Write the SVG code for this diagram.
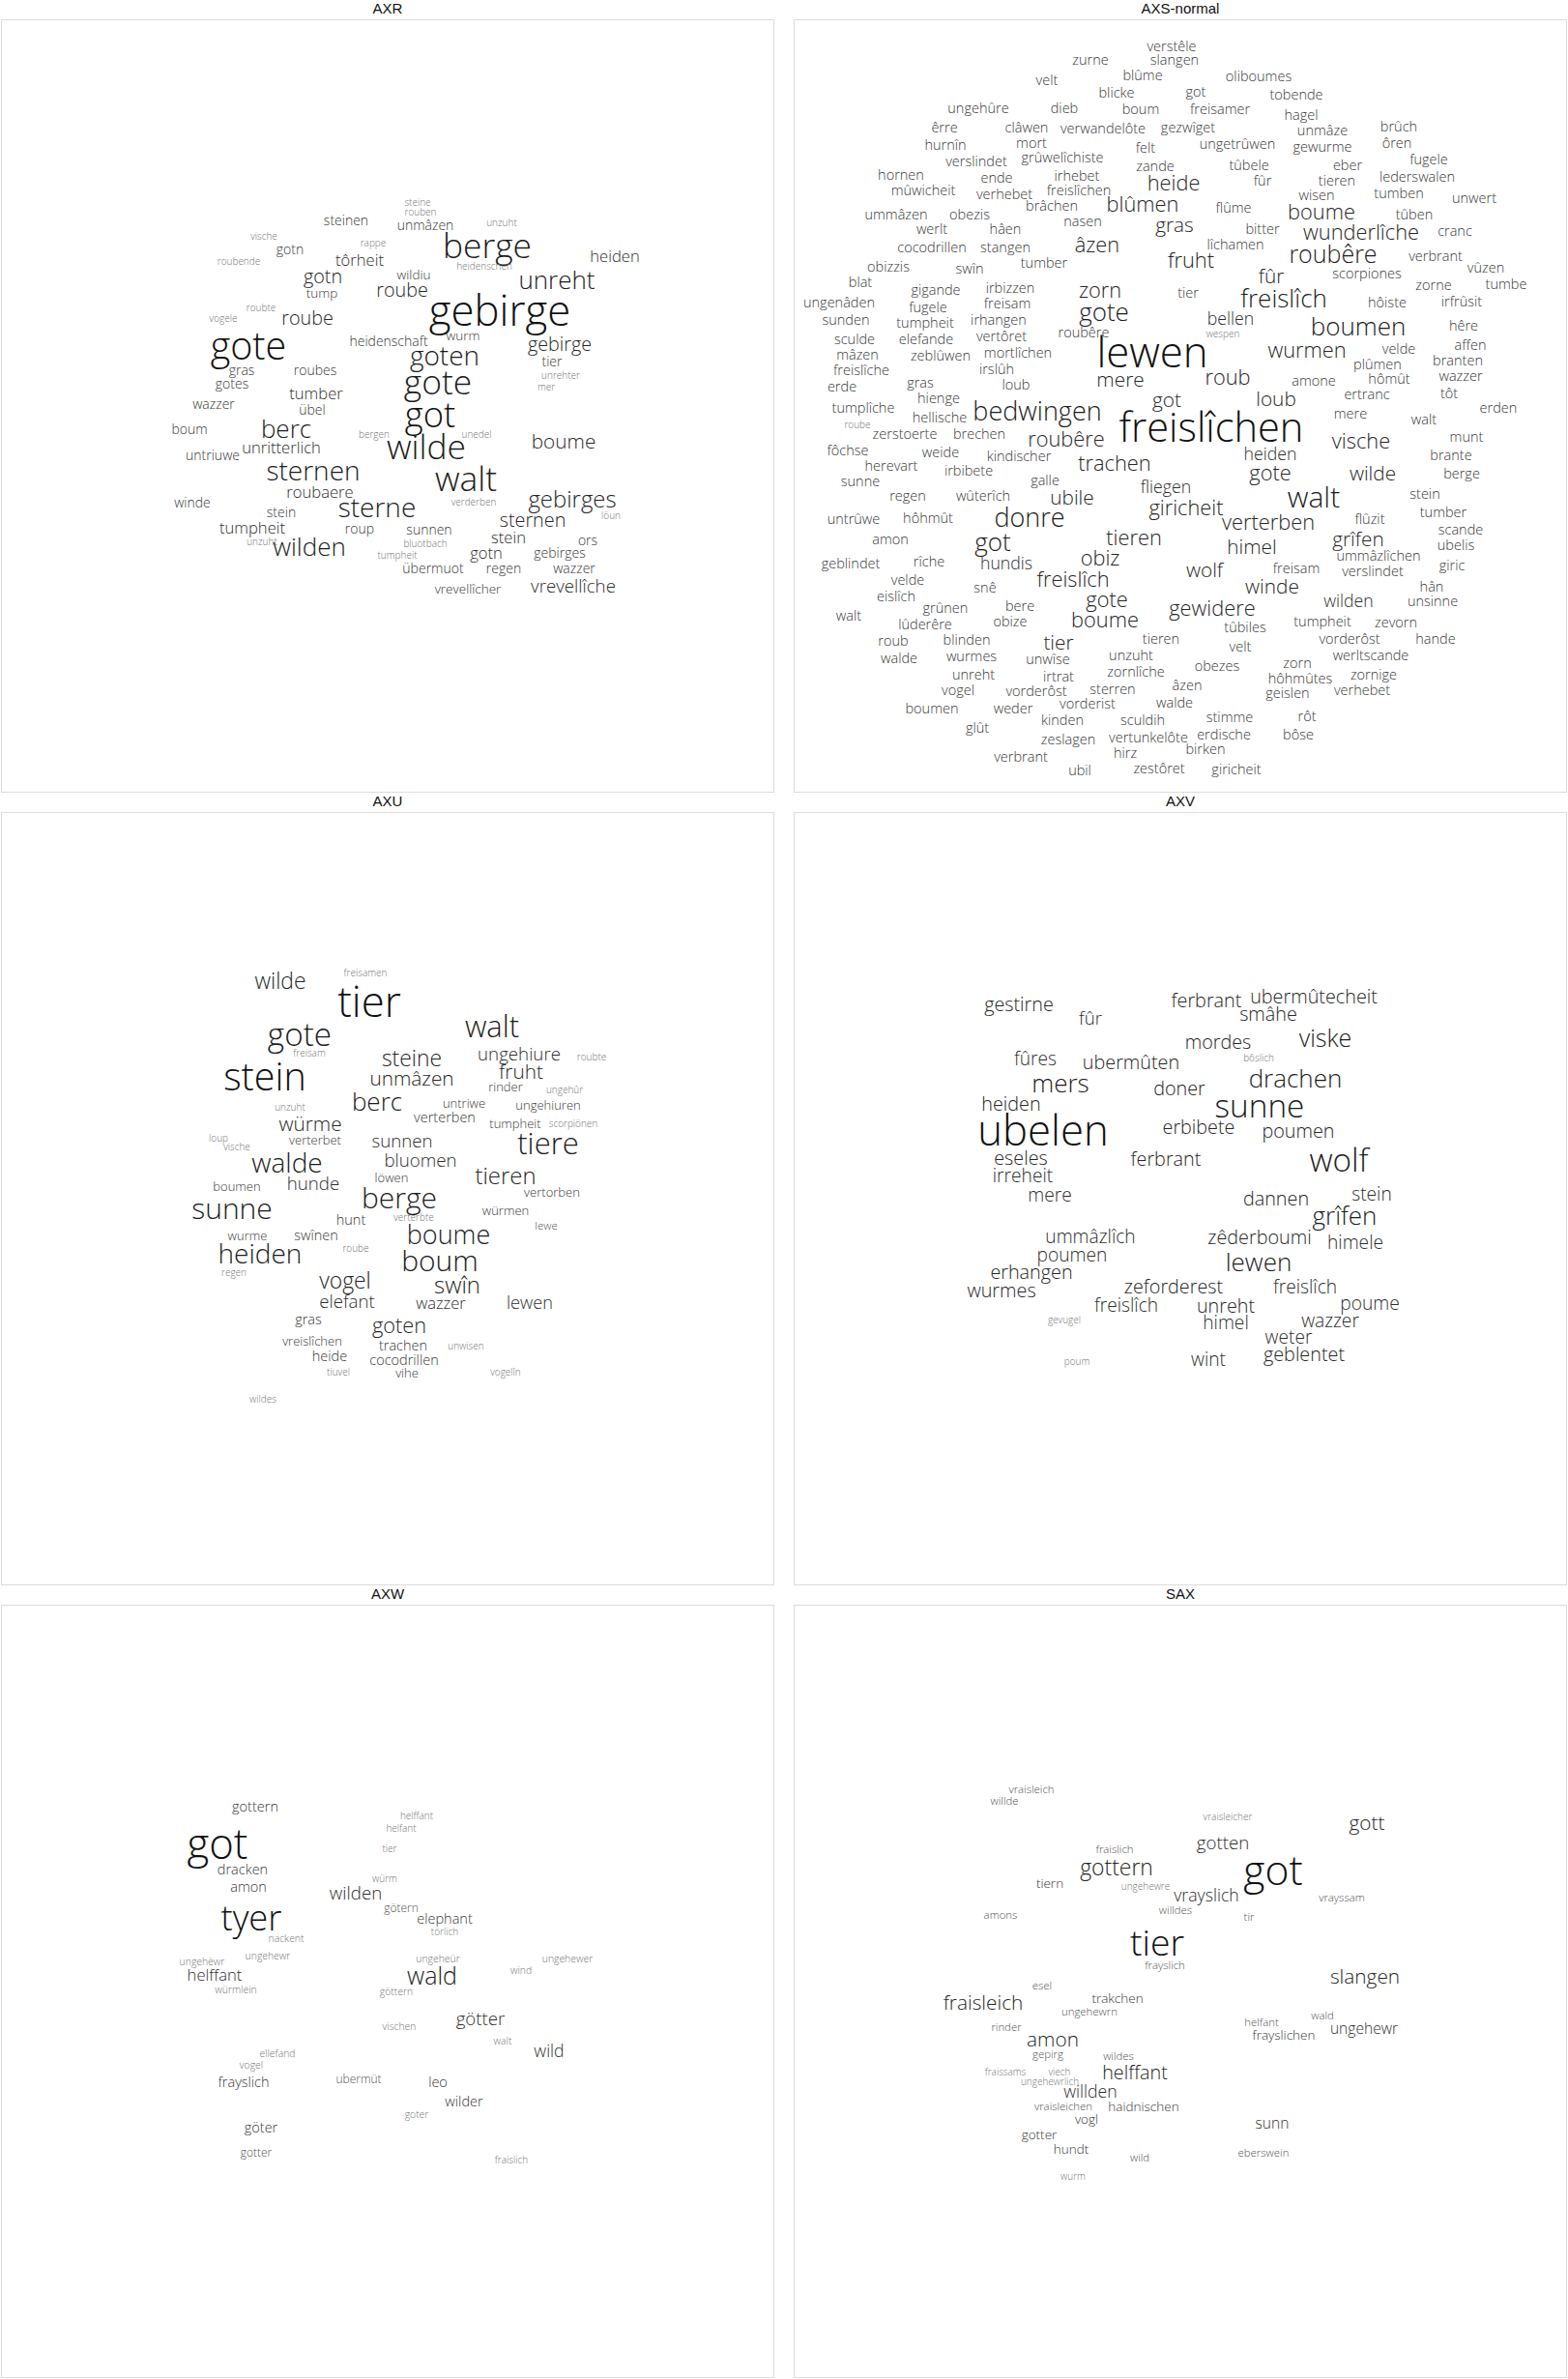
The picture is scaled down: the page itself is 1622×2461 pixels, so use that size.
<svg xmlns="http://www.w3.org/2000/svg" width="1622" height="2461" viewBox="0 0 1622 2461">
<style>
.panel{fill:#fff;stroke:#dcdcdc;stroke-width:1}
.title{font-family:"Liberation Sans",Arial,sans-serif;font-size:15px;fill:#111;text-anchor:middle}
.cloud text{font-family:"Open Sans","DejaVu Sans",sans-serif;font-weight:300;text-anchor:middle}
.a{fill:#111}.b{fill:#1c1c1c}.c{fill:#262626}.d{fill:#2e2e2e}.e{fill:#383838}.f{fill:#555}.g{fill:#777}
</style>
<rect width="1622" height="2461" fill="#fff"/>
<g id="frames">
<rect class="panel" x="1.5" y="20.5" width="799" height="799"/>
<rect class="panel" x="821.5" y="20.5" width="799" height="799"/>
<rect class="panel" x="1.5" y="840.5" width="799" height="799"/>
<rect class="panel" x="821.5" y="840.5" width="799" height="799"/>
<rect class="panel" x="1.5" y="1660.5" width="799" height="799"/>
<rect class="panel" x="821.5" y="1660.5" width="799" height="799"/>
</g>
<g id="titles">
<text class="title" x="401" y="13.5">AXR</text>
<text class="title" x="1221" y="13.5">AXS-normal</text>
<text class="title" x="401" y="833.5">AXU</text>
<text class="title" x="1221" y="833.5">AXV</text>
<text class="title" x="401" y="1653.5">AXW</text>
<text class="title" x="1221" y="1653.5">SAX</text>
</g>
<g id="cloud-AXR" class="cloud">
<text x="432" y="213" font-size="10" class="g">steine</text>
<text x="435" y="223" font-size="10" class="g">rouben</text>
<text x="440" y="238" font-size="14" class="e">unmâzen</text>
<text x="358" y="233" font-size="14" class="e">steinen</text>
<text x="519" y="234" font-size="10" class="g">unzuht</text>
<text x="273" y="248" font-size="10" class="g">vische</text>
<text x="386" y="255" font-size="10" class="g">rappe</text>
<text x="300" y="263" font-size="14" class="e">gotn</text>
<text x="504" y="267" font-size="35.4" class="b">berge</text>
<text x="636" y="271" font-size="16.6" class="d">heiden</text>
<text x="247" y="274" font-size="10" class="g">roubende</text>
<text x="372" y="275" font-size="16.6" class="d">tôrheit</text>
<text x="501" y="279" font-size="10" class="g">heidenschen</text>
<text x="428" y="289" font-size="13.5" class="e">wildiu</text>
<text x="334" y="293" font-size="19.8" class="c">gotn</text>
<text x="576" y="299" font-size="26" class="b">unreht</text>
<text x="416" y="307" font-size="19.8" class="c">roube</text>
<text x="333" y="308" font-size="13.5" class="e">tump</text>
<text x="270" y="322" font-size="10" class="g">roubte</text>
<text x="231" y="333" font-size="10" class="g">vogele</text>
<text x="318" y="336" font-size="19.8" class="c">roube</text>
<text x="517" y="337" font-size="43.7" class="a">gebirge</text>
<text x="479" y="352" font-size="13.5" class="e">wurm</text>
<text x="402" y="358" font-size="14" class="e">heidenschaft</text>
<text x="579" y="363" font-size="19.8" class="c">gebirge</text>
<text x="257" y="372" font-size="39.5" class="a">gote</text>
<text x="460" y="378" font-size="28" class="b">goten</text>
<text x="571" y="379" font-size="14" class="e">tier</text>
<text x="250" y="388" font-size="14" class="e">gras</text>
<text x="326" y="388" font-size="14" class="e">roubes</text>
<text x="580" y="392" font-size="10" class="g">unrehter</text>
<text x="240" y="402" font-size="14" class="e">gotes</text>
<text x="565" y="404" font-size="10" class="g">mer</text>
<text x="453" y="408" font-size="35.4" class="b">gote</text>
<text x="327" y="413" font-size="16.6" class="d">tumber</text>
<text x="221" y="423" font-size="14" class="e">wazzer</text>
<text x="323" y="429" font-size="14" class="e">übel</text>
<text x="445" y="442" font-size="36.4" class="a">got</text>
<text x="196" y="449" font-size="14" class="e">boum</text>
<text x="387" y="453" font-size="10" class="g">bergen</text>
<text x="296" y="453" font-size="26" class="b">berc</text>
<text x="493" y="453" font-size="10" class="g">unedel</text>
<text x="583" y="464" font-size="20.8" class="c">boume</text>
<text x="291" y="469" font-size="16.6" class="d">unritterlich</text>
<text x="441" y="475" font-size="35.4" class="b">wilde</text>
<text x="220" y="476" font-size="14" class="e">untriuwe</text>
<text x="324" y="497" font-size="28" class="b">sternen</text>
<text x="482" y="508" font-size="35.4" class="b">walt</text>
<text x="331" y="515" font-size="16.6" class="d">roubaere</text>
<text x="490" y="523" font-size="10" class="g">verderben</text>
<text x="592" y="525" font-size="23.9" class="c">gebirges</text>
<text x="199" y="525" font-size="14" class="e">winde</text>
<text x="291" y="535" font-size="14" class="e">stein</text>
<text x="390" y="535" font-size="28" class="b">sterne</text>
<text x="632" y="537" font-size="10" class="g">löun</text>
<text x="551" y="545" font-size="19.8" class="c">sternen</text>
<text x="261" y="552" font-size="16.6" class="d">tumpheit</text>
<text x="372" y="552" font-size="14" class="e">roup</text>
<text x="444" y="553" font-size="14" class="e">sunnen</text>
<text x="526" y="562" font-size="16.6" class="d">stein</text>
<text x="608" y="564" font-size="14" class="e">ors</text>
<text x="271" y="564" font-size="10" class="g">unzuht</text>
<text x="440" y="566" font-size="10" class="g">bluotbach</text>
<text x="320" y="575" font-size="26" class="b">wilden</text>
<text x="579" y="577" font-size="14" class="e">gebirges</text>
<text x="411" y="578" font-size="10" class="g">tumpheit</text>
<text x="503" y="578" font-size="16.6" class="d">gotn</text>
<text x="448" y="593" font-size="14" class="e">übermuot</text>
<text x="521" y="593" font-size="14" class="e">regen</text>
<text x="594" y="593" font-size="14" class="e">wazzer</text>
<text x="593" y="613" font-size="18.7" class="d">vrevellîche</text>
<text x="484" y="614" font-size="13.5" class="e">vrevellîcher</text>
</g>
<g id="cloud-AXS-normal" class="cloud">
<text x="1212" y="53" font-size="14.5" class="e">verstêle</text>
<text x="1128" y="67" font-size="14.5" class="e">zurne</text>
<text x="1215" y="67" font-size="14.5" class="e">slangen</text>
<text x="1182" y="83" font-size="14.5" class="e">blûme</text>
<text x="1302" y="84" font-size="14.5" class="e">oliboumes</text>
<text x="1083" y="88" font-size="14.5" class="e">velt</text>
<text x="1237" y="100" font-size="14.5" class="e">got</text>
<text x="1155" y="101" font-size="14.5" class="e">blicke</text>
<text x="1341" y="103" font-size="14.5" class="e">tobende</text>
<text x="1012" y="117" font-size="14.5" class="e">ungehûre</text>
<text x="1101" y="117" font-size="14.5" class="e">dieb</text>
<text x="1180" y="118" font-size="14.5" class="e">boum</text>
<text x="1262" y="118" font-size="14.5" class="e">freisamer</text>
<text x="1346" y="124" font-size="14.5" class="e">hagel</text>
<text x="1447" y="136" font-size="14.5" class="e">brûch</text>
<text x="977" y="137" font-size="14.5" class="e">êrre</text>
<text x="1062" y="137" font-size="14.5" class="e">clâwen</text>
<text x="1141" y="138" font-size="14.5" class="e">verwandelôte</text>
<text x="1229" y="137" font-size="14.5" class="e">gezwîget</text>
<text x="1368" y="140" font-size="14.5" class="e">unmâze</text>
<text x="1445" y="153" font-size="14.5" class="e">ôren</text>
<text x="1067" y="153" font-size="14.5" class="e">mort</text>
<text x="1280" y="154" font-size="14.5" class="e">ungetrûwen</text>
<text x="978" y="155" font-size="14.5" class="e">hurnîn</text>
<text x="1368" y="157" font-size="14.5" class="e">gewurme</text>
<text x="1185" y="158" font-size="14.5" class="e">felt</text>
<text x="1099" y="168" font-size="14.5" class="e">grûwelîchiste</text>
<text x="1478" y="170" font-size="14.5" class="e">fugele</text>
<text x="1010" y="172" font-size="14.5" class="e">verslindet</text>
<text x="1292" y="176" font-size="14.5" class="e">tûbele</text>
<text x="1394" y="176" font-size="14.5" class="e">eber</text>
<text x="1195" y="177" font-size="14.5" class="e">zande</text>
<text x="932" y="186" font-size="14.5" class="e">hornen</text>
<text x="1114" y="187" font-size="14.5" class="e">irhebet</text>
<text x="1466" y="188" font-size="14.5" class="e">lederswalen</text>
<text x="1031" y="189" font-size="14.5" class="e">ende</text>
<text x="1306" y="192" font-size="14.5" class="e">fûr</text>
<text x="1383" y="192" font-size="14.5" class="e">tieren</text>
<text x="1214" y="197" font-size="21.8" class="c">heide</text>
<text x="955" y="202" font-size="14.5" class="e">mûwicheit</text>
<text x="1116" y="202" font-size="14.5" class="e">freislîchen</text>
<text x="1447" y="205" font-size="14.5" class="e">tumben</text>
<text x="1039" y="206" font-size="14.5" class="e">verhebet</text>
<text x="1362" y="207" font-size="14.5" class="e">wisen</text>
<text x="1525" y="210" font-size="14.5" class="e">unwert</text>
<text x="1182" y="219" font-size="21.8" class="c">blûmen</text>
<text x="1088" y="218" font-size="14.5" class="e">brâchen</text>
<text x="1276" y="220" font-size="14.5" class="e">flûme</text>
<text x="1367" y="227" font-size="21.8" class="c">boume</text>
<text x="1003" y="227" font-size="14.5" class="e">obezis</text>
<text x="927" y="227" font-size="14.5" class="e">ummâzen</text>
<text x="1463" y="227" font-size="14.5" class="e">tûben</text>
<text x="1120" y="234" font-size="14.5" class="e">nasen</text>
<text x="1215" y="240" font-size="20.8" class="c">gras</text>
<text x="964" y="242" font-size="14.5" class="e">werlt</text>
<text x="1040" y="242" font-size="14.5" class="e">hâen</text>
<text x="1306" y="242" font-size="14.5" class="e">bitter</text>
<text x="1505" y="244" font-size="14.5" class="e">cranc</text>
<text x="1408" y="248" font-size="21.8" class="c">wunderlîche</text>
<text x="1278" y="258" font-size="14.5" class="e">lîchamen</text>
<text x="964" y="261" font-size="14.5" class="e">cocodrillen</text>
<text x="1040" y="261" font-size="14.5" class="e">stangen</text>
<text x="1135" y="261" font-size="21.8" class="c">âzen</text>
<text x="1485" y="270" font-size="14.5" class="e">verbrant</text>
<text x="1379" y="272" font-size="25" class="b">roubêre</text>
<text x="1232" y="277" font-size="21.8" class="c">fruht</text>
<text x="1080" y="277" font-size="14.5" class="e">tumber</text>
<text x="919" y="281" font-size="14.5" class="e">obizzis</text>
<text x="1537" y="282" font-size="14.5" class="e">vûzen</text>
<text x="1003" y="283" font-size="14.5" class="e">swîn</text>
<text x="1414" y="288" font-size="14.5" class="e">scorpiones</text>
<text x="1315" y="293" font-size="20.8" class="c">fûr</text>
<text x="890" y="297" font-size="14.5" class="e">blat</text>
<text x="1558" y="299" font-size="14.5" class="e">tumbe</text>
<text x="1483" y="300" font-size="14.5" class="e">zorne</text>
<text x="1045" y="303" font-size="14.5" class="e">irbizzen</text>
<text x="968" y="305" font-size="14.5" class="e">gigande</text>
<text x="1138" y="308" font-size="21.8" class="c">zorn</text>
<text x="1229" y="308" font-size="14.5" class="e">tier</text>
<text x="1512" y="317" font-size="14.5" class="e">irfrûsit</text>
<text x="1328" y="318" font-size="26" class="b">freislîch</text>
<text x="1435" y="318" font-size="14.5" class="e">hôiste</text>
<text x="868" y="318" font-size="14.5" class="e">ungenâden</text>
<text x="1042" y="319" font-size="14.5" class="e">freisam</text>
<text x="960" y="323" font-size="14.5" class="e">fugele</text>
<text x="1142" y="332" font-size="26" class="b">gote</text>
<text x="1033" y="336" font-size="14.5" class="e">irhangen</text>
<text x="1273" y="336" font-size="17.7" class="d">bellen</text>
<text x="875" y="336" font-size="14.5" class="e">sunden</text>
<text x="957" y="339" font-size="14.5" class="e">tumpheit</text>
<text x="1514" y="342" font-size="14.5" class="e">hêre</text>
<text x="1405" y="347" font-size="26" class="b">boumen</text>
<text x="1265" y="349" font-size="10" class="g">wespen</text>
<text x="1121" y="349" font-size="14.5" class="e">roubêre</text>
<text x="884" y="356" font-size="14.5" class="e">sculde</text>
<text x="958" y="356" font-size="14.5" class="e">elefande</text>
<text x="1036" y="353" font-size="14.5" class="e">vertôret</text>
<text x="1521" y="362" font-size="14.5" class="e">affen</text>
<text x="1447" y="366" font-size="14.5" class="e">velde</text>
<text x="1352" y="370" font-size="21.8" class="c">wurmen</text>
<text x="1053" y="370" font-size="14.5" class="e">mortlîchen</text>
<text x="887" y="372" font-size="14.5" class="e">mâzen</text>
<text x="973" y="373" font-size="14.5" class="e">zeblûwen</text>
<text x="1508" y="378" font-size="14.5" class="e">branten</text>
<text x="1192" y="380" font-size="43.7" class="a">lewen</text>
<text x="1425" y="382" font-size="14.5" class="e">plûmen</text>
<text x="1031" y="387" font-size="14.5" class="e">irslûh</text>
<text x="891" y="388" font-size="14.5" class="e">freislîche</text>
<text x="1511" y="394" font-size="14.5" class="e">wazzer</text>
<text x="1437" y="397" font-size="14.5" class="e">hômût</text>
<text x="1270" y="398" font-size="21.8" class="c">roub</text>
<text x="1359" y="399" font-size="14.5" class="e">amone</text>
<text x="1159" y="400" font-size="20.8" class="c">mere</text>
<text x="952" y="401" font-size="14.5" class="e">gras</text>
<text x="1051" y="403" font-size="14.5" class="e">loub</text>
<text x="871" y="405" font-size="14.5" class="e">erde</text>
<text x="1499" y="412" font-size="14.5" class="e">tôt</text>
<text x="1414" y="413" font-size="14.5" class="e">ertranc</text>
<text x="971" y="417" font-size="14.5" class="e">hienge</text>
<text x="1320" y="420" font-size="20.8" class="c">loub</text>
<text x="1207" y="421" font-size="20.8" class="c">got</text>
<text x="893" y="427" font-size="14.5" class="e">tumplîche</text>
<text x="1550" y="427" font-size="14.5" class="e">erden</text>
<text x="1397" y="433" font-size="14.5" class="e">mere</text>
<text x="1073" y="435" font-size="27" class="b">bedwingen</text>
<text x="972" y="437" font-size="14.5" class="e">hellische</text>
<text x="1473" y="439" font-size="14.5" class="e">walt</text>
<text x="887" y="443" font-size="10" class="g">roube</text>
<text x="936" y="454" font-size="14.5" class="e">zerstoerte</text>
<text x="1013" y="454" font-size="14.5" class="e">brechen</text>
<text x="1253" y="457" font-size="41.6" class="a">freislîchen</text>
<text x="1517" y="457" font-size="14.5" class="e">munt</text>
<text x="1103" y="462" font-size="21.8" class="c">roubêre</text>
<text x="1408" y="464" font-size="21.8" class="c">vische</text>
<text x="877" y="471" font-size="14.5" class="e">fôchse</text>
<text x="973" y="473" font-size="14.5" class="e">weide</text>
<text x="1314" y="476" font-size="17.7" class="d">heiden</text>
<text x="1501" y="476" font-size="14.5" class="e">brante</text>
<text x="1054" y="477" font-size="14.5" class="e">kindischer</text>
<text x="1153" y="487" font-size="21.8" class="c">trachen</text>
<text x="922" y="487" font-size="14.5" class="e">herevart</text>
<text x="1002" y="492" font-size="14.5" class="e">irbibete</text>
<text x="1512" y="495" font-size="14.5" class="e">berge</text>
<text x="1314" y="497" font-size="21.8" class="c">gote</text>
<text x="1420" y="497" font-size="20.8" class="c">wilde</text>
<text x="1081" y="502" font-size="14.5" class="e">galle</text>
<text x="890" y="503" font-size="14.5" class="e">sunne</text>
<text x="1206" y="510" font-size="17.7" class="d">fliegen</text>
<text x="1474" y="516" font-size="14.5" class="e">stein</text>
<text x="939" y="518" font-size="14.5" class="e">regen</text>
<text x="1017" y="518" font-size="14.5" class="e">wûterîch</text>
<text x="1109" y="522" font-size="20.8" class="c">ubile</text>
<text x="1359" y="525" font-size="30" class="b">walt</text>
<text x="1227" y="533" font-size="21.8" class="c">giricheit</text>
<text x="1493" y="535" font-size="14.5" class="e">tumber</text>
<text x="960" y="541" font-size="14.5" class="e">hôhmût</text>
<text x="883" y="542" font-size="14.5" class="e">untrûwe</text>
<text x="1417" y="542" font-size="14.5" class="e">flûzit</text>
<text x="1065" y="545" font-size="27" class="b">donre</text>
<text x="1312" y="548" font-size="21.8" class="c">verterben</text>
<text x="1511" y="553" font-size="14.5" class="e">scande</text>
<text x="921" y="563" font-size="14.5" class="e">amon</text>
<text x="1173" y="564" font-size="21.8" class="c">tieren</text>
<text x="1405" y="565" font-size="20.8" class="c">grîfen</text>
<text x="1506" y="569" font-size="14.5" class="e">ubelis</text>
<text x="1027" y="570" font-size="26" class="b">got</text>
<text x="1295" y="573" font-size="20.8" class="c">himel</text>
<text x="1426" y="580" font-size="14.5" class="e">ummâzlîchen</text>
<text x="1138" y="585" font-size="21.8" class="c">obiz</text>
<text x="961" y="586" font-size="14.5" class="e">rîche</text>
<text x="880" y="588" font-size="14.5" class="e">geblindet</text>
<text x="1041" y="589" font-size="17.7" class="d">hundis</text>
<text x="1502" y="590" font-size="14.5" class="e">giric</text>
<text x="1341" y="593" font-size="14.5" class="e">freisam</text>
<text x="1420" y="596" font-size="14.5" class="e">verslindet</text>
<text x="1246" y="597" font-size="20.8" class="c">wolf</text>
<text x="939" y="605" font-size="14.5" class="e">velde</text>
<text x="1110" y="607" font-size="21.8" class="c">freislîch</text>
<text x="1481" y="612" font-size="14.5" class="e">hân</text>
<text x="1019" y="613" font-size="14.5" class="e">snê</text>
<text x="1316" y="614" font-size="20.8" class="c">winde</text>
<text x="927" y="622" font-size="14.5" class="e">eislîch</text>
<text x="1482" y="627" font-size="14.5" class="e">unsinne</text>
<text x="1395" y="628" font-size="17.7" class="d">wilden</text>
<text x="1145" y="628" font-size="21.8" class="c">gote</text>
<text x="1055" y="632" font-size="14.5" class="e">bere</text>
<text x="978" y="634" font-size="14.5" class="e">grûnen</text>
<text x="1254" y="637" font-size="21.8" class="c">gewidere</text>
<text x="878" y="642" font-size="14.5" class="e">walt</text>
<text x="1368" y="648" font-size="14.5" class="e">tumpheit</text>
<text x="1045" y="648" font-size="14.5" class="e">obize</text>
<text x="1143" y="649" font-size="21.8" class="c">boume</text>
<text x="1444" y="649" font-size="14.5" class="e">zevorn</text>
<text x="957" y="651" font-size="14.5" class="e">lûderêre</text>
<text x="1288" y="654" font-size="14.5" class="e">tûbiles</text>
<text x="1396" y="666" font-size="14.5" class="e">vorderôst</text>
<text x="1485" y="666" font-size="14.5" class="e">hande</text>
<text x="1201" y="666" font-size="14.5" class="e">tieren</text>
<text x="1000" y="667" font-size="14.5" class="e">blinden</text>
<text x="924" y="668" font-size="14.5" class="e">roub</text>
<text x="1095" y="672" font-size="20.8" class="c">tier</text>
<text x="1283" y="674" font-size="14.5" class="e">velt</text>
<text x="1418" y="683" font-size="14.5" class="e">werltscande</text>
<text x="1170" y="683" font-size="14.5" class="e">unzuht</text>
<text x="1005" y="684" font-size="14.5" class="e">wurmes</text>
<text x="930" y="686" font-size="14.5" class="e">walde</text>
<text x="1084" y="687" font-size="14.5" class="e">unwîse</text>
<text x="1342" y="691" font-size="14.5" class="e">zorn</text>
<text x="1259" y="694" font-size="14.5" class="e">obezes</text>
<text x="1175" y="700" font-size="14.5" class="e">zornlîche</text>
<text x="1421" y="703" font-size="14.5" class="e">zornige</text>
<text x="1007" y="703" font-size="14.5" class="e">unreht</text>
<text x="1095" y="705" font-size="14.5" class="e">irtrat</text>
<text x="1345" y="707" font-size="14.5" class="e">hôhmûtes</text>
<text x="1228" y="714" font-size="14.5" class="e">âzen</text>
<text x="1151" y="718" font-size="14.5" class="e">sterren</text>
<text x="991" y="719" font-size="14.5" class="e">vogel</text>
<text x="1409" y="719" font-size="14.5" class="e">verhebet</text>
<text x="1072" y="720" font-size="14.5" class="e">vorderôst</text>
<text x="1332" y="722" font-size="14.5" class="e">geislen</text>
<text x="1125" y="733" font-size="14.5" class="e">vorderist</text>
<text x="1215" y="732" font-size="14.5" class="e">walde</text>
<text x="964" y="738" font-size="14.5" class="e">boumen</text>
<text x="1048" y="738" font-size="14.5" class="e">weder</text>
<text x="1352" y="746" font-size="14.5" class="e">rôt</text>
<text x="1272" y="747" font-size="14.5" class="e">stimme</text>
<text x="1099" y="750" font-size="14.5" class="e">kinden</text>
<text x="1182" y="750" font-size="14.5" class="e">sculdih</text>
<text x="1011" y="758" font-size="14.5" class="e">glût</text>
<text x="1266" y="765" font-size="14.5" class="e">erdische</text>
<text x="1343" y="765" font-size="14.5" class="e">bôse</text>
<text x="1188" y="768" font-size="14.5" class="e">vertunkelôte</text>
<text x="1105" y="770" font-size="14.5" class="e">zeslagen</text>
<text x="1247" y="780" font-size="14.5" class="e">birken</text>
<text x="1164" y="784" font-size="14.5" class="e">hirz</text>
<text x="1056" y="788" font-size="14.5" class="e">verbrant</text>
<text x="1199" y="800" font-size="14.5" class="e">zestôret</text>
<text x="1279" y="801" font-size="14.5" class="e">giricheit</text>
<text x="1117" y="802" font-size="14.5" class="e">ubil</text>
</g>
<g id="cloud-AXU" class="cloud">
<text x="378" y="1010" font-size="10" class="g">freisamen</text>
<text x="290" y="1023" font-size="22.9" class="c">wilde</text>
<text x="382" y="1052" font-size="43.7" class="a">tier</text>
<text x="509" y="1073" font-size="31" class="b">walt</text>
<text x="310" y="1082" font-size="33.3" class="b">gote</text>
<text x="320" y="1093" font-size="10" class="g">freisam</text>
<text x="537" y="1097" font-size="18.7" class="d">ungehiure</text>
<text x="612" y="1097" font-size="10" class="g">roubte</text>
<text x="426" y="1103" font-size="22.9" class="c">steine</text>
<text x="539" y="1116" font-size="20.8" class="c">fruht</text>
<text x="426" y="1123" font-size="20.8" class="c">unmâzen</text>
<text x="274" y="1128" font-size="39.5" class="a">stein</text>
<text x="523" y="1129" font-size="13" class="e">rinder</text>
<text x="584" y="1131" font-size="10" class="g">ungehûr</text>
<text x="480" y="1146" font-size="13" class="e">untriwe</text>
<text x="567" y="1148" font-size="13" class="e">ungehiuren</text>
<text x="390" y="1149" font-size="26" class="b">berc</text>
<text x="300" y="1149" font-size="10" class="g">unzuht</text>
<text x="460" y="1161" font-size="14.5" class="e">verterben</text>
<text x="593" y="1166" font-size="10" class="g">scorpiönen</text>
<text x="533" y="1167" font-size="13" class="e">tumpheit</text>
<text x="321" y="1170" font-size="20.8" class="c">würme</text>
<text x="226" y="1181" font-size="10" class="g">loup</text>
<text x="326" y="1184" font-size="13" class="e">verterbet</text>
<text x="416" y="1187" font-size="18.7" class="d">sunnen</text>
<text x="245" y="1190" font-size="10" class="g">vische</text>
<text x="567" y="1194" font-size="31" class="b">tiere</text>
<text x="435" y="1207" font-size="18.7" class="d">bluomen</text>
<text x="297" y="1213" font-size="28" class="b">walde</text>
<text x="405" y="1223" font-size="13" class="e">löwen</text>
<text x="523" y="1225" font-size="23.9" class="c">tieren</text>
<text x="324" y="1231" font-size="18.7" class="d">hunde</text>
<text x="245" y="1232" font-size="13" class="e">boumen</text>
<text x="571" y="1238" font-size="13" class="e">vertorben</text>
<text x="413" y="1250" font-size="30" class="b">berge</text>
<text x="523" y="1257" font-size="13" class="e">würmen</text>
<text x="240" y="1261" font-size="30" class="b">sunne</text>
<text x="428" y="1263" font-size="10" class="g">verterbte</text>
<text x="363" y="1267" font-size="14.5" class="e">hunt</text>
<text x="565" y="1272" font-size="11.4" class="f">lewe</text>
<text x="256" y="1283" font-size="13" class="e">wurme</text>
<text x="327" y="1283" font-size="14.5" class="e">swînen</text>
<text x="464" y="1287" font-size="27" class="b">boume</text>
<text x="368" y="1295" font-size="10" class="g">roube</text>
<text x="269" y="1307" font-size="28" class="b">heiden</text>
<text x="455" y="1315" font-size="30" class="b">boum</text>
<text x="242" y="1320" font-size="10" class="g">regen</text>
<text x="357" y="1333" font-size="22.9" class="c">vogel</text>
<text x="473" y="1338" font-size="23.9" class="c">swîn</text>
<text x="359" y="1353" font-size="18.7" class="d">elefant</text>
<text x="456" y="1354" font-size="16.6" class="d">wazzer</text>
<text x="548" y="1354" font-size="18.2" class="d">lewen</text>
<text x="319" y="1370" font-size="14.5" class="e">gras</text>
<text x="413" y="1379" font-size="21.8" class="c">goten</text>
<text x="323" y="1392" font-size="13" class="e">vreislîchen</text>
<text x="482" y="1396" font-size="10" class="g">unwisen</text>
<text x="417" y="1397" font-size="14.5" class="e">trachen</text>
<text x="341" y="1408" font-size="14.5" class="e">heide</text>
<text x="418" y="1412" font-size="14.5" class="e">cocodrillen</text>
<text x="350" y="1423" font-size="10" class="g">tiuvel</text>
<text x="523" y="1423" font-size="10" class="g">vogelîn</text>
<text x="421" y="1425" font-size="13" class="e">vihe</text>
<text x="272" y="1451" font-size="10" class="g">wildes</text>
</g>
<g id="cloud-AXV" class="cloud">
<text x="1359" y="1038" font-size="19.8" class="c">ubermûtecheit</text>
<text x="1248" y="1042" font-size="19.8" class="c">ferbrant</text>
<text x="1054" y="1046" font-size="19.8" class="c">gestirne</text>
<text x="1312" y="1056" font-size="19.8" class="c">smâhe</text>
<text x="1128" y="1060" font-size="18.7" class="d">fûr</text>
<text x="1371" y="1083" font-size="25" class="b">viske</text>
<text x="1260" y="1085" font-size="19.8" class="c">mordes</text>
<text x="1302" y="1098" font-size="10" class="g">bôslich</text>
<text x="1071" y="1102" font-size="19.2" class="d">fûres</text>
<text x="1170" y="1106" font-size="19.8" class="c">ubermûten</text>
<text x="1340" y="1125" font-size="26" class="b">drachen</text>
<text x="1097" y="1130" font-size="26" class="b">mers</text>
<text x="1220" y="1133" font-size="19.8" class="c">doner</text>
<text x="1046" y="1149" font-size="19.8" class="c">heiden</text>
<text x="1303" y="1156" font-size="33.3" class="b">sunne</text>
<text x="1240" y="1173" font-size="19.8" class="c">erbibete</text>
<text x="1343" y="1177" font-size="19.8" class="c">poumen</text>
<text x="1079" y="1185" font-size="43.7" class="a">ubelen</text>
<text x="1056" y="1205" font-size="19.8" class="c">eseles</text>
<text x="1206" y="1206" font-size="19.8" class="c">ferbrant</text>
<text x="1385" y="1212" font-size="33.3" class="b">wolf</text>
<text x="1058" y="1223" font-size="19.2" class="d">irreheit</text>
<text x="1419" y="1242" font-size="19.2" class="d">stein</text>
<text x="1086" y="1243" font-size="19.2" class="d">mere</text>
<text x="1320" y="1247" font-size="19.8" class="c">dannen</text>
<text x="1391" y="1267" font-size="26" class="b">grîfen</text>
<text x="1128" y="1286" font-size="19.2" class="d">ummâzlîch</text>
<text x="1303" y="1287" font-size="19.8" class="c">zêderboumi</text>
<text x="1402" y="1292" font-size="19.2" class="d">himele</text>
<text x="1109" y="1305" font-size="19.2" class="d">poumen</text>
<text x="1302" y="1315" font-size="26" class="b">lewen</text>
<text x="1067" y="1323" font-size="19.8" class="c">erhangen</text>
<text x="1214" y="1338" font-size="19.8" class="c">zeforderest</text>
<text x="1350" y="1338" font-size="19.2" class="d">freislîch</text>
<text x="1036" y="1342" font-size="19.8" class="c">wurmes</text>
<text x="1417" y="1355" font-size="19.2" class="d">poume</text>
<text x="1165" y="1357" font-size="19.2" class="d">freislîch</text>
<text x="1268" y="1358" font-size="19.8" class="c">unreht</text>
<text x="1101" y="1369" font-size="10" class="g">gevugel</text>
<text x="1376" y="1373" font-size="19.2" class="d">wazzer</text>
<text x="1268" y="1375" font-size="19.2" class="d">himel</text>
<text x="1333" y="1390" font-size="19.2" class="d">weter</text>
<text x="1349" y="1408" font-size="19.8" class="c">geblentet</text>
<text x="1114" y="1412" font-size="10" class="g">poum</text>
<text x="1250" y="1413" font-size="19.2" class="d">wint</text>
</g>
<g id="cloud-AXW" class="cloud">
<text x="264" y="1874" font-size="14.5" class="e">gottern</text>
<text x="431" y="1882" font-size="10" class="g">helffant</text>
<text x="415" y="1895" font-size="10" class="g">helfant</text>
<text x="403" y="1916" font-size="10" class="g">tier</text>
<text x="225" y="1923" font-size="43.7" class="a">got</text>
<text x="251" y="1939" font-size="14.5" class="e">dracken</text>
<text x="398" y="1947" font-size="10" class="g">würm</text>
<text x="257" y="1957" font-size="14.5" class="e">amon</text>
<text x="368" y="1965" font-size="18.7" class="d">wilden</text>
<text x="415" y="1978" font-size="12" class="f">götern</text>
<text x="460" y="1990" font-size="14.5" class="e">elephant</text>
<text x="260" y="1997" font-size="36.4" class="a">tyer</text>
<text x="460" y="2002" font-size="10" class="g">törlich</text>
<text x="296" y="2009" font-size="10.4" class="g">nackent</text>
<text x="277" y="2027" font-size="10.4" class="g">ungehewr</text>
<text x="209" y="2033" font-size="10.4" class="g">ungehëwr</text>
<text x="453" y="2030" font-size="10.4" class="g">ungeheür</text>
<text x="587" y="2030" font-size="10.4" class="g">ungehewer</text>
<text x="539" y="2042" font-size="10.4" class="g">wind</text>
<text x="222" y="2049" font-size="16.6" class="d">helffant</text>
<text x="447" y="2053" font-size="25" class="b">wald</text>
<text x="244" y="2062" font-size="10.4" class="g">würmlein</text>
<text x="410" y="2064" font-size="10.4" class="g">göttern</text>
<text x="497" y="2095" font-size="18.7" class="d">götter</text>
<text x="413" y="2100" font-size="10.4" class="g">vischen</text>
<text x="520" y="2115" font-size="10.4" class="g">walt</text>
<text x="568" y="2128" font-size="17.7" class="d">wild</text>
<text x="287" y="2128" font-size="10.4" class="g">ellefand</text>
<text x="260" y="2140" font-size="10.4" class="g">vogel</text>
<text x="371" y="2155" font-size="12" class="f">ubermüt</text>
<text x="252" y="2159" font-size="14.5" class="e">frayslich</text>
<text x="453" y="2159" font-size="14.5" class="e">leo</text>
<text x="480" y="2179" font-size="14.5" class="e">wilder</text>
<text x="431" y="2191" font-size="10.4" class="g">goter</text>
<text x="270" y="2206" font-size="14.5" class="e">göter</text>
<text x="265" y="2231" font-size="12" class="f">gotter</text>
<text x="529" y="2238" font-size="10" class="g">fraislich</text>
</g>
<g id="cloud-SAX" class="cloud">
<text x="1067" y="1855" font-size="11.4" class="f">vraisleich</text>
<text x="1039" y="1867" font-size="11.4" class="f">willde</text>
<text x="1270" y="1883" font-size="10" class="g">vraisleicher</text>
<text x="1414" y="1893" font-size="20.8" class="c">gott</text>
<text x="1265" y="1913" font-size="18.7" class="d">gotten</text>
<text x="1153" y="1917" font-size="11.4" class="f">fraislich</text>
<text x="1155" y="1940" font-size="22.9" class="c">gottern</text>
<text x="1317" y="1950" font-size="42.6" class="a">got</text>
<text x="1086" y="1953" font-size="13.5" class="e">tiern</text>
<text x="1185" y="1955" font-size="10" class="g">ungehewre</text>
<text x="1248" y="1967" font-size="17.7" class="d">vrayslich</text>
<text x="1388" y="1967" font-size="11.4" class="f">vrayssam</text>
<text x="1216" y="1980" font-size="11.4" class="f">willdes</text>
<text x="1035" y="1985" font-size="11.4" class="f">amons</text>
<text x="1292" y="1987" font-size="11.4" class="f">tir</text>
<text x="1197" y="2023" font-size="37.4" class="a">tier</text>
<text x="1205" y="2037" font-size="11.4" class="f">frayslich</text>
<text x="1412" y="2052" font-size="20.8" class="c">slangen</text>
<text x="1078" y="2058" font-size="11.4" class="f">esel</text>
<text x="1156" y="2072" font-size="13.5" class="e">trakchen</text>
<text x="1017" y="2079" font-size="20.8" class="c">fraisleich</text>
<text x="1127" y="2085" font-size="11.4" class="f">ungehewrn</text>
<text x="1368" y="2089" font-size="11.4" class="f">wald</text>
<text x="1305" y="2096" font-size="11.4" class="f">helfant</text>
<text x="1041" y="2101" font-size="11.4" class="f">rinder</text>
<text x="1411" y="2104" font-size="15.6" class="d">ungehewr</text>
<text x="1328" y="2110" font-size="13.5" class="e">frayslichen</text>
<text x="1089" y="2117" font-size="20.8" class="c">amon</text>
<text x="1084" y="2129" font-size="11.4" class="f">gepirg</text>
<text x="1157" y="2131" font-size="11.4" class="f">wildes</text>
<text x="1096" y="2147" font-size="10" class="g">viech</text>
<text x="1040" y="2147" font-size="10" class="g">fraissams</text>
<text x="1174" y="2151" font-size="19.8" class="c">helffant</text>
<text x="1086" y="2157" font-size="10" class="g">ungehewrlich</text>
<text x="1128" y="2170" font-size="17.7" class="d">willden</text>
<text x="1100" y="2183" font-size="11.4" class="f">vraisleichen</text>
<text x="1183" y="2184" font-size="13.5" class="e">haidnischen</text>
<text x="1124" y="2197" font-size="13.5" class="e">vogl</text>
<text x="1316" y="2202" font-size="15.6" class="d">sunn</text>
<text x="1075" y="2213" font-size="13.5" class="e">gotter</text>
<text x="1108" y="2228" font-size="13.5" class="e">hundt</text>
<text x="1307" y="2231" font-size="11.4" class="f">eberswein</text>
<text x="1179" y="2236" font-size="11.4" class="f">wild</text>
<text x="1110" y="2255" font-size="10" class="g">wurm</text>
</g>
</svg>
